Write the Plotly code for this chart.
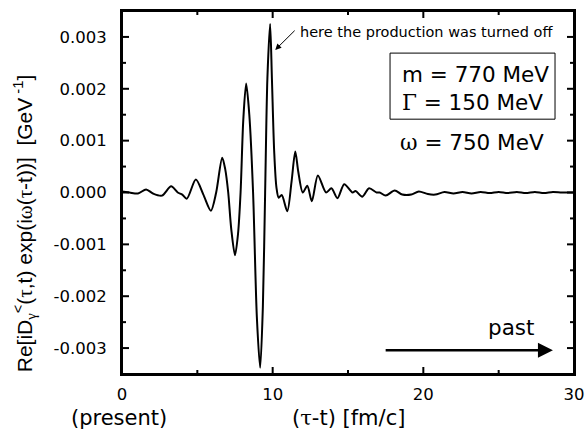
import plotly.graph_objects as go

# Curve: (tau - t) in fm/c and Re[...] in GeV^-1
tau = [0.0, 0.5, 1.06, 1.6, 2.06, 2.65, 3.26, 3.7, 4.0, 4.3, 4.9, 5.4, 5.9, 6.25, 6.65,
       6.85, 7.05, 7.25, 7.5, 7.7, 7.87, 8.05, 8.24, 8.45, 8.7, 8.95, 9.17, 9.35, 9.5,
       9.65, 9.83, 9.95, 10.1, 10.25, 10.4, 10.6, 10.97, 11.25, 11.5, 11.7, 12.0, 12.3,
       12.6, 13.0, 13.55, 13.9, 14.3, 14.75, 15.3, 15.5, 15.95, 16.4, 16.9, 17.1, 17.5,
       18.1, 18.6, 19.2, 19.7, 20.3, 20.8, 21.4, 22.0, 22.6, 23.2, 23.8, 24.4, 25.0,
       25.6, 26.2, 26.8, 27.4, 28.0, 28.6, 29.2, 30.0]
re_d = [0.00002, 0.0, -0.00002, 0.00006, -0.00002, -0.00006, 0.00012, 0.0, -0.00004,
        -0.00012, 0.00025, -0.00004, -0.00035, 0.0, 0.00067,
        0.00045, 0.0, -0.0007, -0.00121, -0.0008, 0.0, 0.0014, 0.0021, 0.0015, 0.0,
        -0.0024, -0.00338, -0.0022, 0.0,
        0.0022, 0.00325, 0.0022, 0.0008, 0.0001, -0.0001, -0.00005, -0.00036, 0.0002,
        0.00079, 0.0004, 0.0, 0.00013,
        -0.00017, 0.00033, 0.0, 0.00008, -0.00011, 0.00016, 0.0, 0.00003, -0.00008,
        0.00008, 0.0, 0.0, -0.00006,
        0.00004, -0.00004, -0.00004, 0.00002, -0.00003, -0.00004, 0.00001, -0.00002,
        0.00001, -0.00002, 0.00001, -0.00001, 0.00001,
        -0.00001, 0.00001, -0.00001, 0.00001, -0.00001, 0.00001, 0.0, 0.0]

x_range = [0, 30]
y_range = [-0.0035, 0.0035]
x_ticks = [0, 10, 20, 30]
x_tick_labels = ["0", "10", "20", "30"]
x_minor_ticks = [5, 15, 25]
y_ticks = [-0.003, -0.002, -0.001, 0.0, 0.001, 0.002, 0.003]
y_tick_labels = ["-0.003", "-0.002", "-0.001", "0.000", "0.001", "0.002", "0.003"]
y_minor_ticks = [-0.0025, -0.0015, -0.0005, 0.0005, 0.0015, 0.0025]

SANS = "DejaVu Sans"
TSANS = "Liberation Sans"
SERIF = "DejaVu Serif"
LS = "Liberation Serif"

def greek(ch, fam=SERIF):
    return f'<span style="font-family:{fam}">{ch}</span>'

fig = go.Figure()
fig.add_trace(go.Scatter(x=tau, y=re_d, mode="lines",
                         line=dict(color="black", width=2, shape="spline", smoothing=0.8),
                         showlegend=False, hoverinfo="skip"))

ann = []
ytitle = (f"Re[iD<sub>{greek('γ', LS)}</sub><sup>&lt;</sup>"
          f"({greek('τ', LS)},t) exp(i{greek('ω', LS)}"
          f"({greek('τ', LS)}-t))]  [GeV<sup> -1</sup>]")
ann.append(dict(text=ytitle, x=-0.214, y=0.416, xref="paper", yref="paper", textangle=-90,
                showarrow=False, font=dict(family=TSANS, size=21, color="black"),
                xanchor="center", yanchor="middle"))
ann.append(dict(text=f"({greek('τ')}-t) [fm/c]", x=0.5, y=-0.121, xref="paper", yref="paper",
                showarrow=False, font=dict(family=SANS, size=21, color="black"),
                xanchor="center", yanchor="middle"))
ann.append(dict(text="(present)", x=-0.007, y=-0.121, xref="paper", yref="paper",
                showarrow=False, font=dict(family=SANS, size=21, color="black"),
                xanchor="center", yanchor="middle"))
ann.append(dict(text="here the production was turned off", x=11.65, y=0.0031, xref="x", yref="y",
                showarrow=False, font=dict(family=SANS, size=14.5, color="black"),
                xanchor="left", yanchor="middle"))
ann.append(dict(text="", x=10.17, y=0.00275, ax=11.56, ay=0.00315, xref="x", yref="y",
                axref="x", ayref="y", showarrow=True, arrowhead=2, arrowsize=1.2,
                arrowwidth=1, arrowcolor="black"))
ann.append(dict(text="m = 770 MeV", x=0.615, y=0.824, xref="paper", yref="paper",
                showarrow=False, font=dict(family=SANS, size=21.5, color="black"),
                xanchor="left", yanchor="middle"))
ann.append(dict(text=f"{greek('Γ')} = 150 MeV", x=0.615, y=0.747, xref="paper", yref="paper",
                showarrow=False, font=dict(family=SANS, size=21.5, color="black"),
                xanchor="left", yanchor="middle"))
ann.append(dict(text=f"{greek('ω')} = 750 MeV", x=0.611, y=0.639, xref="paper", yref="paper",
                showarrow=False, font=dict(family=SANS, size=21.5, color="black"),
                xanchor="left", yanchor="middle"))
ann.append(dict(text="past", x=25.8, y=-0.0026, xref="x", yref="y", showarrow=False,
                font=dict(family=SANS, size=21.5, color="black"), xanchor="center", yanchor="middle"))
ann.append(dict(text="", x=28.6, y=-0.00304, ax=17.4, ay=-0.00304, xref="x", yref="y",
                axref="x", ayref="y", showarrow=True, arrowhead=2, arrowsize=1.2,
                arrowwidth=2.5, arrowcolor="black"))

axis_style = dict(showline=True, linecolor="black", linewidth=2, mirror=True,
                  ticks="", showgrid=False, zeroline=False, tickmode="array",
                  tickfont=dict(family=SANS, size=16.5, color="black"))

# frame and inward tick marks on all four sides, placed on the axis scales
tick_line = dict(color="black", width=2)
shapes = [dict(type="rect", xref="paper", yref="paper", x0=0, x1=1, y0=0, y1=1,
               line=dict(color="black", width=2), layer="above")]
for vals, length in ((x_ticks, 7), (x_minor_ticks, 4)):
    for v in vals:
        shapes.append(dict(type="line", xref="x", yref="paper", ysizemode="pixel", yanchor=0,
                           x0=v, x1=v, y0=0, y1=length, line=tick_line))
        shapes.append(dict(type="line", xref="x", yref="paper", ysizemode="pixel", yanchor=1,
                           x0=v, x1=v, y0=-length, y1=0, line=tick_line))
for vals, length in ((y_ticks, 7), (y_minor_ticks, 4)):
    for v in vals:
        shapes.append(dict(type="line", yref="y", xref="paper", xsizemode="pixel", xanchor=0,
                           y0=v, y1=v, x0=0, x1=length, line=tick_line))
        shapes.append(dict(type="line", yref="y", xref="paper", xsizemode="pixel", xanchor=1,
                           y0=v, y1=v, x0=-length, x1=0, line=tick_line))
shapes.append(dict(type="rect", xref="paper", yref="paper", x0=0.593, x1=0.958, y0=0.702,
                   y1=0.884, line=dict(color="black", width=1)))

fig.update_layout(
    width=586, height=438,
    margin=dict(l=122, r=12, t=11, b=64, autoexpand=False),
    paper_bgcolor="white", plot_bgcolor="white",
    xaxis=dict(range=x_range, tickvals=x_ticks, ticktext=x_tick_labels, ticklabelstandoff=4,
               **axis_style),
    yaxis=dict(range=y_range, tickvals=y_ticks, ticktext=y_tick_labels, ticklabelstandoff=10,
               **axis_style),
    annotations=ann,
    shapes=shapes,
)

fig.write_html("out.html", config={"displayModeBar": False},
               post_script="document.body.style.margin='0';document.body.style.overflow='hidden';")
